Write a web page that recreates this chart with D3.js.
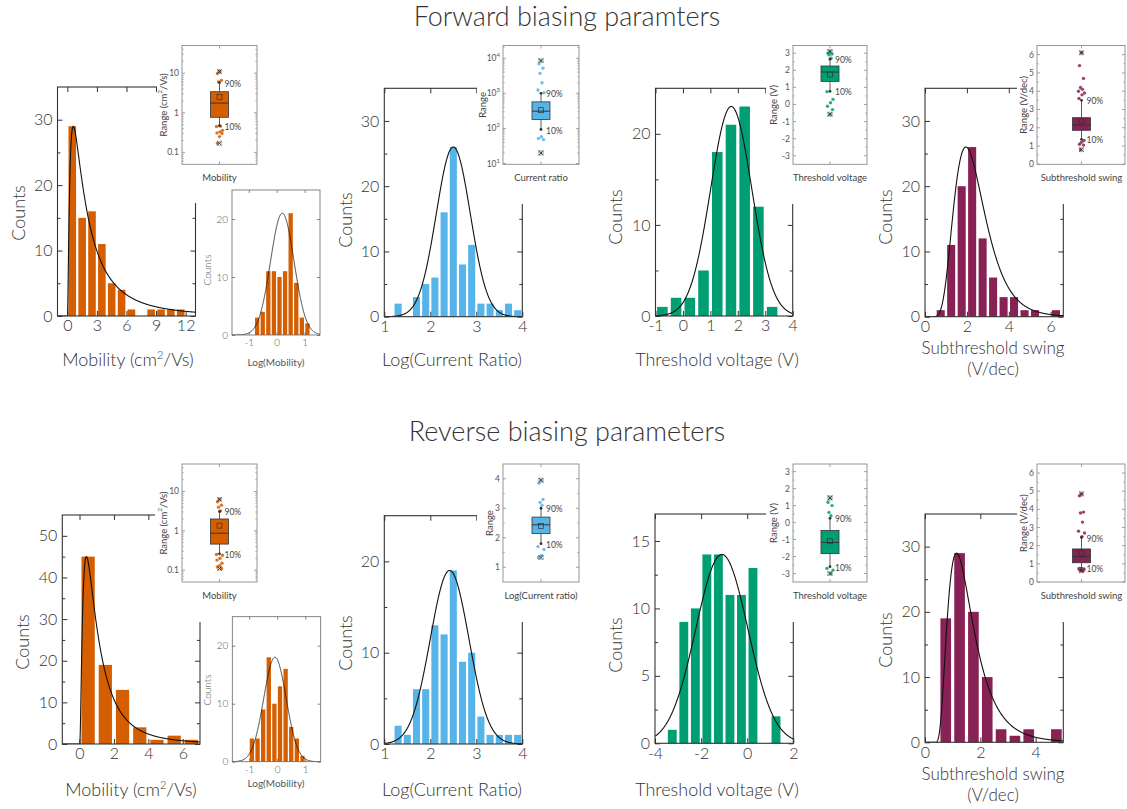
<!DOCTYPE html>
<html><head><meta charset="utf-8">
<script src="https://cdn.jsdelivr.net/npm/d3@7"></script>
<style>body{margin:0;background:#fff}svg{display:block}</style>
</head><body><svg id="c" width="1127" height="809"></svg>
<script>
// ---------------- DATA ----------------
const rowTitles = ["Forward biasing paramters", "Reverse biasing parameters"];
const axisLabels = ["Mobility (cm", "Log(Current Ratio)", "Threshold voltage (V)", "Subthreshold swing", "(V/dec)"];

// Forward biasing – histograms (bin centres / counts)
const mobF_bins = [0.5,1.5,2.5,3.5,4.5,5.5,6.5,7.5,8.5,9.5,10.5,11.5];
const mobF_counts = [29,15,16,11,5,4,1,0,1,1,1,1];
const mobF_fit = [0, 0.6, 1.1, 29];            // lognormal: shift, mode, sigma, peak
const logMobF_bins = [-0.7,-0.5,-0.3,-0.1,0.1,0.3,0.5,0.7,0.9,1.1];
const logMobF_counts = [3,4,11,11,10,11,21,9,3,2];
const logMobF_fit = [0.2, 0.42, 21];           // gaussian: mean, sd, peak
const crF_bins = [1.3,1.5,1.7,1.9,2.1,2.3,2.5,2.7,2.9,3.1,3.3,3.5,3.7,3.9];
const crF_counts = [2,0,3,5,6,16,26,8,11,2,2,1,2,1];
const crF_fit = [2.5, 0.37, 26];
const vthF_bins = [-0.75,-0.25,0.25,0.75,1.25,1.75,2.25,2.75,3.25];
const vthF_counts = [1,2,2,5,18,21,23,12,1];
const vthF_fit = [1.76, 0.75, 23];
const ssF_bins = [0.75,1.25,1.75,2.25,2.75,3.25,3.75,4.25,4.75,5.25,5.75,6.25];
const ssF_counts = [1,11,20,26,12,6,3,3,1,1,0,1];
const ssF_fit = [0, 1.95, 0.38, 26];

// Reverse biasing – histograms
const mobR_bins = [0.5,1.5,2.5,3.5,4.5,5.5,6.5];
const mobR_counts = [45,19,13,4,1,2,1];
const mobR_fit = [0, 0.4, 0.95, 45];
const logMobR_bins = [-0.9,-0.7,-0.5,-0.3,-0.1,0.1,0.3,0.5,0.7,0.9];
const logMobR_counts = [4,4,9,18,10,13,16,6,4,1];
const logMobR_fit = [-0.08, 0.4, 18];
const crR_bins = [1.3,1.5,1.7,1.9,2.1,2.3,2.5,2.7,2.9,3.1,3.3,3.5,3.7,3.9];
const crR_counts = [2,1,6,6,13,12,19,9,10,3,1,1,1,1];
const crR_fit = [2.42, 0.42, 19];
const vthR_bins = [-3.25,-2.75,-2.25,-1.75,-1.25,-0.75,-0.25,0.25,0.75,1.25];
const vthR_counts = [1,9,10,14,14,11,11,13,0,2];
const vthR_fit = [-1.1, 1.13, 14];
const ssR_bins = [0.75,1.25,1.75,2.25,2.75,3.25,3.75,4.25,4.75];
const ssR_counts = [19,29,20,10,2,1,2,0,2];
const ssR_fit = [0.3, 1.14, 0.55, 29];

// Box-plot statistics: [p10, q1, median, q3, p90, mean, min, max]
const mobF_box = [0.47,0.77,1.76,3.4,5.8,2.5,0.17,11];
const mobF_out = [11,9.8,6.6,6.0,0.46,0.45,0.36,0.33,0.31,0.3,0.25,0.17];
const crF_box = [93,180,310,570,1000,330,20,8500];
const crF_out = [8500,6900,5200,3700,2000,1240,1040,58,52,48,20];
const vthF_box = [0.77,1.35,1.9,2.25,2.65,1.75,-0.57,3.1];
const vthF_out = [3.1,3.0,2.95,2.9,2.7,0.75,0.3,0.1,-0.1,-0.3,-0.57];
const ssF_box = [1.36,1.86,2.15,2.55,3.5,2.35,0.8,6.1];
const ssF_out = [6.1,5.4,4.7,4.2,4.1,4.0,3.9,3.8,3.6,1.3,1.2,1.1,1.05,0.8];
const mobR_box = [0.26,0.46,0.87,2.0,3.1,1.36,0.11,6.3];
const mobR_out = [6.3,5.5,4.5,4.0,3.2,0.25,0.24,0.2,0.18,0.15,0.13,0.12,0.11];
const crR_box = [1.8,2.14,2.44,2.7,3.0,2.4,1.33,3.95];
const crR_out = [3.95,3.85,3.3,3.2,3.1,1.7,1.6,1.4,1.33];
const vthR_box = [-2.6,-1.83,-1.17,-0.46,0.25,-1.1,-3.0,1.45];
const vthR_out = [1.45,1.2,1.0,0.6,0.4,-2.7,-2.8,-3.0];
const ssR_box = [0.76,1.06,1.4,1.82,2.45,1.58,0.62,4.85];
const ssR_out = [4.85,4.75,3.85,3.8,3.3,2.8,2.7,2.5,0.75,0.72,0.7,0.68,0.65,0.62,0.6];

// tick values
const mobF_xt=[0,3,6,9,12], mobR_xt=[0,2,4,6], cr_xt=[1,2,3,4], vthF_xt=[-1,0,1,2,3,4], vthR_xt=[-4,-2,0,2];
const ssF_xt=[0,2,4,6], ssR_xt=[0,2,4], logMob_xt=[-1,0,1];
const mobLog_yt=[0.1,1,10], mobLog_ytl=["0.1","1","10"];
const crLog_yt=[10,100,1000,10000], crLog_ytl=["1","2","3","4"];   // exponents of 10
const vthIn_yt=[-3,-2,-1,0,1,2,3], ssIn_yt=[0,1,2,3,4,5,6], crLin_yt=[1,2,3,4];

// colours
const C_ORANGE="#D55E00", C_BLUE="#56B4E9", C_GREEN="#009E73", C_WINE="#882255";

// ---------------- DRAWING ----------------
const FONT='Lato, "DejaVu Sans", sans-serif';
const FW=300;
const INK="#333", GREY="#8a8a8a";
const svg=d3.select("#c");
let clipN=0;

function lognormFit(p){const [x0,mode,s,peak]=p;const zm=mode-x0;const mu=Math.log(zm)+s*s;
  const g=z=>z<=0?0:Math.exp(-Math.pow(Math.log(z)-mu,2)/(2*s*s))/z;const gm=g(zm);return x=>peak*g(x-x0)/gm;}
function gaussFit(p){const [m,s,peak]=p;return x=>peak*Math.exp(-(x-m)*(x-m)/(2*s*s));}

function txt(g,x,y,str,size,opt={}){
  const t=g.append("text").attr("x",x).attr("y",y).attr("font-family",FONT).attr("font-size",size).attr("font-weight",opt.fw||FW)
    .attr("fill",opt.fill||INK).attr("text-anchor",opt.anchor||"middle").attr("dominant-baseline",opt.base||"central").text(str);
  if(opt.rot) t.attr("transform",`rotate(-90,${x},${y})`);
  return t;
}

function hist(c){
  const g=svg.append("g");
  const x=d3.scaleLinear().domain(c.xd).range([c.l,c.r]);
  const y=d3.scaleLinear().domain(c.yd).range([c.b,c.t]);
  const id="clip"+(clipN++);
  svg.append("clipPath").attr("id",id).append("rect").attr("x",c.l).attr("y",c.t).attr("width",c.r-c.l).attr("height",c.b-c.t);
  const half=c.bw*0.385;
  g.selectAll("rect.bar").data(d3.zip(c.bins,c.counts)).join("rect").attr("class","bar")
    .attr("x",d=>x(d[0]-half)).attr("width",d=>x(d[0]+half)-x(d[0]-half))
    .attr("y",d=>y(d[1])).attr("height",d=>y(0)-y(d[1])).attr("fill",c.color);
  const xs=d3.range(0,801).map(i=>c.xd[0]+(c.xd[1]-c.xd[0])*i/800);
  g.append("path").attr("clip-path",`url(#${id})`).attr("d",d3.line().x(v=>x(v)).y(v=>y(c.f(v)))(xs))
    .attr("fill","none").attr("stroke","#111").attr("stroke-width",c.small?0.8:1.1);
  const col=c.small?"#666":INK, fs=c.small?10:16, tl=c.small?3:5;
  g.append("rect").attr("x",c.l).attr("y",c.t).attr("width",c.r-c.l).attr("height",c.b-c.t).attr("fill","none").attr("stroke",col).attr("stroke-width",c.small?0.8:1.1);
  const clean=s=>{s.select(".domain").remove();s.selectAll("line").attr("stroke",col).attr("stroke-width",c.small?0.8:1);s.selectAll("text").attr("fill",c.small?"#555":INK).attr("font-size",fs).attr("font-family",FONT).attr("font-weight",FW);};
  g.append("g").attr("transform",`translate(0,${c.b})`).call(d3.axisBottom(x).tickValues(c.xt).tickSize(-tl).tickPadding(c.small?4:4).tickFormat(d=>String(d))).call(clean);
  g.append("g").attr("transform",`translate(0,${c.t})`).call(d3.axisTop(x).tickValues(c.xt).tickSize(-tl).tickFormat("")).call(clean);
  g.append("g").attr("transform",`translate(${c.l},0)`).call(d3.axisLeft(y).tickValues(c.yt).tickSize(-tl).tickPadding(c.small?4:5).tickFormat(d=>String(d))).call(clean);
  g.append("g").attr("transform",`translate(${c.r},0)`).call(d3.axisRight(y).tickValues(c.yt).tickSize(-tl).tickFormat("")).call(clean);
  if(c.ym){
    g.append("g").attr("transform",`translate(${c.l},0)`).call(d3.axisLeft(y).tickValues(c.ym).tickSize(-tl*0.6).tickFormat("")).call(clean);
    g.append("g").attr("transform",`translate(${c.r},0)`).call(d3.axisRight(y).tickValues(c.ym).tickSize(-tl*0.6).tickFormat("")).call(clean);
  }
  txt(g,c.yl[0],c.yl[1],"Counts",c.small?10:18,{rot:true,fill:c.small?"#555":INK});
}

function boxInset(c){
  const g=svg.append("g");
  g.append("rect").attr("x",c.l-c.bgl).attr("y",c.t-8).attr("width",c.r-c.l+c.bgl+3).attr("height",c.bgb-c.t+8).attr("fill","#fff");
  const y=(c.log?d3.scaleLog():d3.scaleLinear()).domain(c.yd).range([c.b,c.t]);
  const cx=c.cx||(c.l+c.r)/2;
  g.append("rect").attr("x",c.l).attr("y",c.t).attr("width",c.r-c.l).attr("height",c.b-c.t).attr("fill","none").attr("stroke",GREY).attr("stroke-width",0.9);
  c.yt.forEach((v,i)=>{
    g.append("line").attr("x1",c.l).attr("x2",c.l+3).attr("y1",y(v)).attr("y2",y(v)).attr("stroke",GREY).attr("stroke-width",0.8);
    g.append("line").attr("x1",c.r-3).attr("x2",c.r).attr("y1",y(v)).attr("y2",y(v)).attr("stroke",GREY).attr("stroke-width",0.8);
    if(c.sup){
      const t=txt(g,c.l-3,y(v),"10",8.5,{anchor:"end",fill:"#555",fw:400});
      t.append("tspan").attr("dy",-4).attr("font-size",6).text(c.ytl[i]);
    } else txt(g,c.l-3,y(v),c.ytl?c.ytl[i]:String(v),8.5,{anchor:"end",fill:"#555",fw:400});
  });
  let minors=[];
  if(c.log){ c.yt.forEach(v=>{for(let k=2;k<10;k++){const m=v*k;if(m>c.yd[0]&&m<c.yd[1])minors.push(m);}});
    for(let k=2;k<10;k++){const m=c.yt[0]/10*k;if(m>c.yd[0])minors.push(m);} }
  else { c.yt.forEach(v=>{const m=v+0.5;if(m<c.yd[1])minors.push(m);}); minors.push(c.yt[0]-0.5); minors=minors.filter(m=>m>c.yd[0]&&m<c.yd[1]); }
  minors.forEach(m=>{
    g.append("line").attr("x1",c.l).attr("x2",c.l+1.8).attr("y1",y(m)).attr("y2",y(m)).attr("stroke",GREY).attr("stroke-width",0.6);
    g.append("line").attr("x1",c.r-1.8).attr("x2",c.r).attr("y1",y(m)).attr("y2",y(m)).attr("stroke",GREY).attr("stroke-width",0.6);
  });
  g.append("line").attr("x1",cx).attr("x2",cx).attr("y1",c.b).attr("y2",c.b-3).attr("stroke",GREY).attr("stroke-width",0.8);
  g.append("line").attr("x1",cx).attr("x2",cx).attr("y1",c.t).attr("y2",c.t+3).attr("stroke",GREY).attr("stroke-width",0.8);
  const [p10,q1,med,q3,p90,mean,mn,mx]=c.stats;
  const bw=18;
  g.append("line").attr("x1",cx).attr("x2",cx).attr("y1",y(p90)).attr("y2",y(q3)).attr("stroke",INK).attr("stroke-width",0.8);
  g.append("line").attr("x1",cx).attr("x2",cx).attr("y1",y(q1)).attr("y2",y(p10)).attr("stroke",INK).attr("stroke-width",0.8);
  g.append("rect").attr("x",cx-bw/2).attr("width",bw).attr("y",y(q3)).attr("height",y(q1)-y(q3)).attr("fill",c.color).attr("stroke",INK).attr("stroke-width",0.8);
  g.append("line").attr("x1",cx-bw/2).attr("x2",cx+bw/2).attr("y1",y(med)).attr("y2",y(med)).attr("stroke",INK).attr("stroke-width",1);
  g.append("rect").attr("x",cx-2.5).attr("y",y(mean)-2.5).attr("width",5).attr("height",5).attr("fill","none").attr("stroke",INK).attr("stroke-width",0.7);
  const jit=[0,-2,2,-1,1,-3,3,0.5,-2.5,2.5];
  g.selectAll("circle.o").data(c.out).join("circle").attr("class","o").attr("cx",(d,i)=>cx+jit[i%jit.length]).attr("cy",d=>y(d)).attr("r",1.7).attr("fill",c.color).attr("opacity",0.85);
  [p10,p90].forEach(v=>g.append("circle").attr("cx",cx).attr("cy",y(v)).attr("r",1.4).attr("fill",INK));
  [mn,mx].forEach(v=>{const yy=y(v),s=2.2;
    g.append("path").attr("d",`M${cx-s},${yy-s}L${cx+s},${yy+s}M${cx-s},${yy+s}L${cx+s},${yy-s}`).attr("stroke",INK).attr("stroke-width",0.9);
    g.append("rect").attr("x",cx-s).attr("y",yy-s).attr("width",2*s).attr("height",2*s).attr("fill","none").attr("stroke","#777").attr("stroke-width",0.4);});
  txt(g,cx+5,y(p90)+1,"90%",8.5,{anchor:"start",fill:"#444",fw:400});
  txt(g,cx+5,y(p10)+1,"10%",8.5,{anchor:"start",fill:"#444",fw:400});
  txt(g,cx,c.b+13,c.xlab,9.5,{fill:"#444",fw:400});
  const yl=txt(g,c.l-c.ylo,(c.t+c.b)/2,"",9.5,{rot:true,fill:"#444",fw:400});
  c.ylab.forEach(p=>{const ts=yl.append("tspan").text(p[0]);if(p[1]){ts.attr("font-size",6.5).attr("dy",-4);} else if(p[2]){ts.attr("dy",4);}});
}

// titles
txt(svg,567,26,rowTitles[0],27,{base:"alphabetic"});
txt(svg,567,441,rowTitles[1],27,{base:"alphabetic"});

// ---------- Top row ----------
hist({l:57.5,r:195.5,t:87,b:316,xd:[-1,13],yd:[0,35],xt:mobF_xt,yt:[0,10,20,30],ym:[5,15,25],bins:mobF_bins,counts:mobF_counts,bw:1,color:C_ORANGE,f:lognormFit(mobF_fit),yl:[18,213]});
hist({l:384.3,r:522.3,t:88.3,b:316.7,xd:[1,4],yd:[0,35],xt:cr_xt,yt:[0,10,20,30],ym:[5,15,25],bins:crF_bins,counts:crF_counts,bw:0.2,color:C_BLUE,f:gaussFit(crF_fit),yl:[345,220]});
hist({l:655.5,r:792.7,t:88.3,b:316,xd:[-1,4],yd:[0,25],xt:vthF_xt,yt:[0,10,20],ym:[5,15],bins:vthF_bins,counts:vthF_counts,bw:0.5,color:C_GREEN,f:gaussFit(vthF_fit),yl:[615,217]});
hist({l:925,r:1063.3,t:88.3,b:316.7,xd:[0,6.6],yd:[0,35],xt:ssF_xt,yt:[0,10,20,30],ym:[5,15,25],bins:ssF_bins,counts:ssF_counts,bw:0.5,color:C_WINE,f:lognormFit(ssF_fit),yl:[885,217]});

// ---------- Bottom row ----------
hist({l:62.3,r:200,t:515,b:744,xd:[-1,7],yd:[0,55],xt:mobR_xt,yt:[0,10,20,30,40,50],ym:[5,15,25,35,45],bins:mobR_bins,counts:mobR_counts,bw:1,color:C_ORANGE,f:lognormFit(mobR_fit),yl:[22,642]});
hist({l:384.3,r:522.3,t:515.7,b:744,xd:[1,4],yd:[0,25],xt:cr_xt,yt:[0,10,20],ym:[5,15],bins:crR_bins,counts:crR_counts,bw:0.2,color:C_BLUE,f:gaussFit(crR_fit),yl:[345,643]});
hist({l:655,r:793.3,t:514,b:743.3,xd:[-4,2],yd:[0,17],xt:vthR_xt,yt:[0,5,10,15],ym:[2.5,7.5,12.5],bins:vthR_bins,counts:vthR_counts,bw:0.5,color:C_GREEN,f:gaussFit(vthR_fit),yl:[615,645]});
hist({l:925,r:1063.3,t:514,b:742.3,xd:[0,5],yd:[0,35],xt:ssR_xt,yt:[0,10,20,30],ym:[5,15,25],bins:ssR_bins,counts:ssR_counts,bw:0.5,color:C_WINE,f:lognormFit(ssR_fit),yl:[885,640]});

// ---------- Box-plot insets ----------
const rowTop=[45.5,164.3], rowBot=[464,582];
boxInset({l:182,r:257,t:rowTop[0],b:rowTop[1],bgl:25,bgb:203,log:true,yd:[0.05,50],yt:mobLog_yt,ytl:mobLog_ytl,stats:mobF_box,out:mobF_out,color:C_ORANGE,xlab:"Mobility",ylo:19,ylab:[["Range (cm"],["2",true],["/Vs)",false,true]]});
boxInset({l:503,r:579,t:rowTop[0],b:rowTop[1],bgl:26,bgb:204,log:true,sup:true,yd:[9.5,23000],yt:crLog_yt,ytl:crLog_ytl,stats:crF_box,out:crF_out,color:C_BLUE,xlab:"Current ratio",ylo:21,ylab:[["Range"]]});
boxInset({l:793,r:867,t:rowTop[0],b:rowTop[1],bgl:27,bgb:204,yd:[-3.5,3.45],yt:vthIn_yt,stats:vthF_box,out:vthF_out,color:C_GREEN,xlab:"Threshold voltage",ylo:20,ylab:[["Range (V)"]]});
boxInset({l:1037,r:1125,cx:1081.5,t:rowTop[0],b:rowTop[1],bgl:20,bgb:204,yd:[0,6.5],yt:ssIn_yt,stats:ssF_box,out:ssF_out,color:C_WINE,xlab:"Subthreshold swing",ylo:14,ylab:[["Range (V/dec)"]]});

boxInset({l:182,r:257,t:rowBot[0],b:rowBot[1],bgl:27,bgb:622,log:true,yd:[0.05,50],yt:mobLog_yt,ytl:mobLog_ytl,stats:mobR_box,out:mobR_out,color:C_ORANGE,xlab:"Mobility",ylo:19,ylab:[["Range (cm"],["2",true],["/Vs)",false,true]]});
boxInset({l:503,r:579,t:rowBot[0],b:rowBot[1],bgl:26,bgb:622,yd:[0.5,4.5],yt:crLin_yt,stats:crR_box,out:crR_out,color:C_BLUE,xlab:"Log(Current ratio)",ylo:14,ylab:[["Range"]]});
boxInset({l:793,r:867,t:rowBot[0],b:rowBot[1],bgl:27,bgb:622,yd:[-3.5,3.45],yt:vthIn_yt,stats:vthR_box,out:vthR_out,color:C_GREEN,xlab:"Threshold voltage",ylo:20,ylab:[["Range (V)"]]});
boxInset({l:1037,r:1125,cx:1081.5,t:rowBot[0],b:rowBot[1],bgl:20,bgb:622,yd:[0,6.5],yt:ssIn_yt,stats:ssR_box,out:ssR_out,color:C_WINE,xlab:"Subthreshold swing",ylo:14,ylab:[["Range (V/dec)"]]});

// ---------- Log(mobility) insets ----------
hist({small:true,l:232,r:320,t:190,b:335,xd:[-1.6,1.55],yd:[0,25],xt:logMob_xt,yt:[0,10,20],bins:logMobF_bins,counts:logMobF_counts,bw:0.2,color:C_ORANGE,f:gaussFit(logMobF_fit),yl:[207,270]});
hist({small:true,l:232.3,r:320.7,t:616.7,b:761.7,xd:[-1.6,1.55],yd:[0,25],xt:logMob_xt,yt:[0,10,20],bins:logMobR_bins,counts:logMobR_counts,bw:0.2,color:C_ORANGE,f:gaussFit(logMobR_fit),yl:[207,690]});
txt(svg,276,362,"Log(Mobility)",10,{fill:"#555",fw:400});
txt(svg,276,783,"Log(Mobility)",10,{fill:"#555",fw:400});

// ---------- Main axis labels (alphabetic baselines) ----------
const AB={base:"alphabetic"};
function mobLabel(x,y){const t=txt(svg,x,y,"",18,AB);t.append("tspan").text(axisLabels[0]);t.append("tspan").attr("font-size",11).attr("dy",-7).text("2");t.append("tspan").attr("dy",7).text("/Vs)");}
mobLabel(128,366); mobLabel(131,796);
txt(svg,452,366,axisLabels[1],18,AB); txt(svg,452,796,axisLabels[1],18,AB);
txt(svg,717,366,axisLabels[2],18,AB); txt(svg,717,796,axisLabels[2],18,AB);
txt(svg,993,354,axisLabels[3],17,AB); txt(svg,993,375,axisLabels[4],17,AB);
txt(svg,993,780,axisLabels[3],17,AB); txt(svg,993,801,axisLabels[4],17,AB);
</script></body></html>
